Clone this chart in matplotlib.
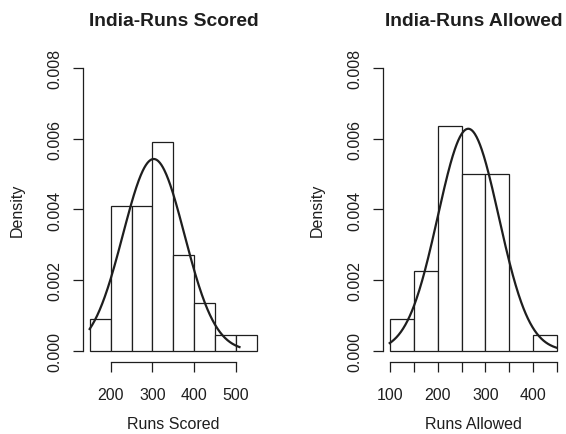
import numpy as np
import matplotlib.pyplot as plt

plt.rcParams['font.family'] = ['Liberation Sans', 'DejaVu Sans']

# Histogram data (bin edges and counts, 44 matches)
scored_edges = [150, 200, 250, 300, 350, 400, 450, 500, 550]
scored_counts = [2, 9, 9, 13, 6, 3, 1, 1]
allowed_edges = [100, 150, 200, 250, 300, 350, 400, 450]
allowed_counts = [2, 5, 14, 11, 11, 0, 1]

# Normal curve overlaid (mean, sd, drawn range)
scored_mean, scored_sd = 303, 73.5
scored_range = (150, 508)
allowed_mean, allowed_sd = 264, 63.5
allowed_range = (100, 448)

scored_xticks = [200, 300, 400, 500]
allowed_xticks = [100, 150, 200, 250, 300, 350, 400, 450]
allowed_xlabels = ['100', '', '200', '', '300', '', '400', '']
yticks = [0.000, 0.002, 0.004, 0.006, 0.008]

ink = '#1e1e1e'


def dnorm(x, m, s):
    return np.exp(-0.5 * ((x - m) / s) ** 2) / (s * np.sqrt(2 * np.pi))


def draw_panel(ax, edges, counts, mean, sd, rng, title, xlabel, xticks, xlabels):
    edges = np.array(edges, dtype=float)
    counts = np.array(counts, dtype=float)
    mids = (edges[:-1] + edges[1:]) / 2
    ax.hist(mids, bins=edges, weights=counts, density=True,
            facecolor='white', edgecolor=ink, linewidth=0.9)
    xs = np.linspace(rng[0], rng[1], 300)
    ax.plot(xs, dnorm(xs, mean, sd), color=ink, linewidth=1.6)

    span = edges[-1] - edges[0]
    ax.set_xlim(edges[0] - 0.04 * span, edges[-1] + 0.04 * span)
    ax.set_ylim(-0.00032, 0.00832)

    for side in ['top', 'right']:
        ax.spines[side].set_visible(False)
    ax.spines['left'].set_bounds(0, 0.008)
    ax.spines['bottom'].set_bounds(xticks[0], xticks[-1])
    for side in ['left', 'bottom']:
        ax.spines[side].set_color(ink)
        ax.spines[side].set_linewidth(0.9)

    ax.set_yticks(yticks)
    ax.set_yticklabels(['%.3f' % v for v in yticks], rotation=90, va='center')
    ax.set_xticks(xticks)
    ax.set_xticklabels(xlabels)
    ax.tick_params(axis='both', direction='out', length=7, width=0.9,
                   color=ink, labelcolor=ink, labelsize=11.5)
    ax.tick_params(axis='x', pad=11)
    ax.tick_params(axis='y', pad=8)

    ax.set_title(title, fontsize=13.9, fontweight='bold', color=ink, pad=23)
    ax.set_xlabel(xlabel, fontsize=11.5, color=ink, labelpad=10)
    ax.set_ylabel('Density', fontsize=11.5, color=ink, labelpad=16)


fig = plt.figure(figsize=(5.66, 4.35), dpi=100)
ax1 = fig.add_axes([0.1466, 0.1648, 0.3194, 0.7026])
ax2 = fig.add_axes([0.6767, 0.1648, 0.3198, 0.7026])

draw_panel(ax1, scored_edges, scored_counts, scored_mean, scored_sd, scored_range,
           'India-Runs Scored', 'Runs Scored', scored_xticks,
           [str(t) for t in scored_xticks])
draw_panel(ax2, allowed_edges, allowed_counts, allowed_mean, allowed_sd, allowed_range,
           'India-Runs Allowed', 'Runs Allowed', allowed_xticks, allowed_xlabels)

fig.savefig('out.png', dpi=100)
